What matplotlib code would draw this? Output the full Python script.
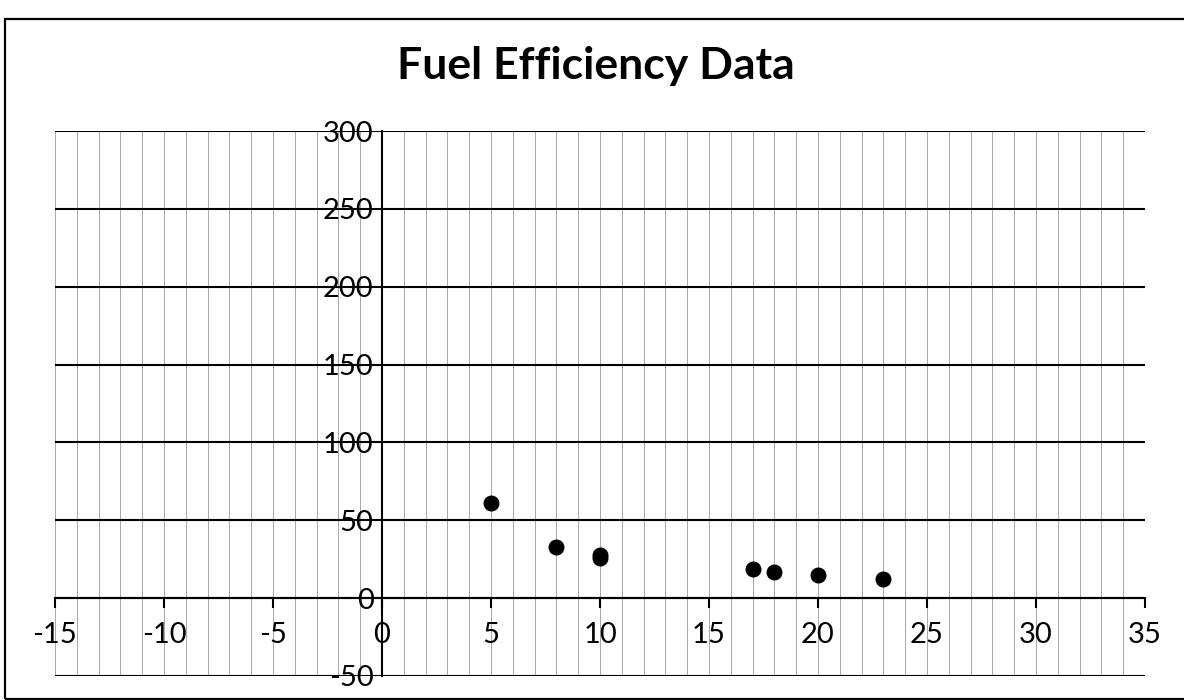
import numpy as np
import matplotlib.pyplot as plt
from matplotlib.patches import Rectangle

plt.rcParams['font.family'] = ['Lato', 'DejaVu Sans']
plt.rcParams['axes.unicode_minus'] = False

# Dados
x_vals = [5, 8, 10, 10, 17, 18, 20, 23]
y_vals = [61, 33, 28, 26, 19, 17, 15, 12]

x_ticks = [-15, -10, -5, 0, 5, 10, 15, 20, 25, 30, 35]
y_ticks = [-50, 0, 50, 100, 150, 200, 250, 300]

fig = plt.figure(figsize=(11.84, 7), dpi=100)
ax = fig.add_axes([55 / 1184, 1 - 676 / 700, 1090 / 1184, 545 / 700])

# borda da área do gráfico
fig.patches.append(Rectangle((5 / 1184, 0.002), 1.2, 1 - 19 / 700 - 0.002,
                             transform=fig.transFigure, fill=False,
                             edgecolor='black', linewidth=1.6))

ax.set_xlim(-15, 35)
ax.set_ylim(-50, 300)

# linhas de grade
for xv in np.arange(-15, 36, 1):
    ax.axvline(xv, color='#a8a8a8', linewidth=0.7, zorder=0)
for yv in y_ticks:
    ax.axhline(yv, color='black', linewidth=1.5, zorder=1)

ax.scatter(x_vals, y_vals, s=110, color='black', zorder=5)

# eixos cruzando em zero
ax.spines['left'].set_position(('data', 0))
ax.spines['bottom'].set_position(('data', 0))
ax.spines['top'].set_visible(False)
ax.spines['right'].set_visible(False)
ax.spines['left'].set_linewidth(1.5)
ax.spines['bottom'].set_linewidth(1.5)

ax.set_xticks(x_ticks)
ax.set_yticks(y_ticks)
ax.tick_params(axis='x', direction='out', length=7, width=1.5, labelsize=21, pad=10)
ax.tick_params(axis='y', length=0, labelsize=21, pad=6)

fig.text(596 / 1184, 1 - 66 / 700, "Fuel Efficiency Data", ha='center', va='center',
         fontsize=32, fontweight='bold')

fig.savefig("out.png", dpi=100, facecolor='white')
